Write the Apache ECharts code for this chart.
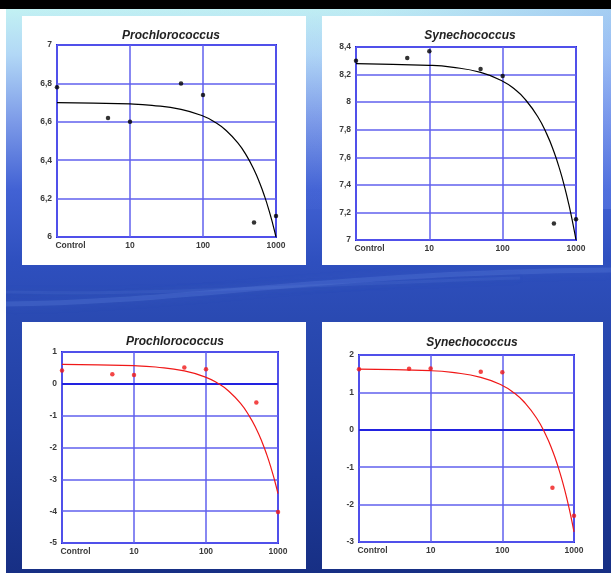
<!DOCTYPE html>
<html>
<head>
<meta charset="utf-8">
<script src="https://cdn.jsdelivr.net/npm/echarts@6/dist/echarts.min.js"></script>
<style>
html, body { margin: 0; padding: 0; background: #fff; }
#main { width: 611px; height: 573px; }
</style>
</head>
<body>
<div id="main"></div>
<script>
// dose axis (1 = Control), log scale
const doses = [1, 5, 10, 50, 100, 500, 1000];
const xTicks = [1, 10, 100, 1000];
const curveX = [1, 10, 20, 50, 100, 150, 200, 300, 400, 500, 600, 700, 800, 900, 1000];

// top row: log abundance
const proAbund = [6.78, 6.62, 6.60, 6.80, 6.74, 6.075, 6.11];
const proAbundFit = [6.700, 6.693, 6.686, 6.665, 6.630, 6.595, 6.560, 6.490, 6.420, 6.350, 6.280, 6.210, 6.140, 6.070, 6.000];
const synAbund = [8.30, 8.32, 8.37, 8.24, 8.19, 7.12, 7.15];
const synAbundFit = [8.280, 8.267, 8.254, 8.216, 8.152, 8.088, 8.024, 7.896, 7.768, 7.640, 7.512, 7.384, 7.256, 7.128, 7.000];

// bottom row: growth rate
const proGrowth = [0.42, 0.30, 0.28, 0.51, 0.46, -0.59, -4.03];
const proGrowthFit = [0.610, 0.570, 0.529, 0.407, 0.204, 0.001, -0.202, -0.608, -1.014, -1.420, -1.826, -2.232, -2.638, -3.044, -3.450];
const synGrowth = [1.62, 1.63, 1.64, 1.55, 1.54, -1.55, -2.30];
const synGrowthFit = [1.620, 1.580, 1.533, 1.403, 1.185, 0.968, 0.750, 0.315, -0.120, -0.555, -0.990, -1.425, -1.860, -2.295, -2.730];

const panels = [
  { title: 'Prochlorococcus', tx: 166, ty: 25, grid: [57, 45, 219, 192], ymin: 6, ymax: 7, step: 0.2, pts: proAbund, fit: proAbundFit, color: '#000', zero: false },
  { title: 'Synechococcus', tx: 465, ty: 25, grid: [356, 47, 220, 193], ymin: 7, ymax: 8.4, step: 0.2, pts: synAbund, fit: synAbundFit, color: '#000', zero: false },
  { title: 'Prochlorococcus', tx: 170, ty: 331, grid: [62, 352, 216, 191], ymin: -5, ymax: 1, step: 1, pts: proGrowth, fit: proGrowthFit, color: '#f01818', zero: true },
  { title: 'Synechococcus', tx: 467, ty: 332, grid: [359, 355, 215, 187], ymin: -3, ymax: 2, step: 1, pts: synGrowth, fit: synGrowthFit, color: '#f01818', zero: true }
];

const blueGrid = '#6060ee';
const blueBorder = '#2222e0';
const labelFont = { fontFamily: 'Liberation Sans', fontSize: 8.5, fontWeight: 'bold', color: '#3a3a3a' };

const chart = echarts.init(document.getElementById('main'));

const option = {
  animation: false,
  graphic: [
    {
      type: 'rect', z: -20, shape: { x: 6, y: 9, width: 605, height: 564 },
      style: {
        fill: new echarts.graphic.LinearGradient(0, 0, 0, 1, [
          { offset: 0, color: '#c2f1f3' },
          { offset: 0.08, color: '#b2d8f6' },
          { offset: 0.2, color: '#7c9ae8' },
          { offset: 0.32, color: '#4262d4' },
          { offset: 0.45, color: '#2e4fbe' },
          { offset: 0.55, color: '#2a4ab2' },
          { offset: 0.75, color: '#213fa2' },
          { offset: 1, color: '#172f84' }
        ])
      }
    },
    {
      type: 'rect', z: -19, shape: { x: 6, y: 9, width: 605, height: 200 },
      style: {
        fill: new echarts.graphic.LinearGradient(0, 0, 1, 0, [
          { offset: 0, color: 'rgba(120,150,240,0)' },
          { offset: 0.6, color: 'rgba(120,150,240,0.05)' },
          { offset: 1, color: 'rgba(110,140,240,0.35)' }
        ])
      }
    },
    {
      type: 'bezierCurve', z: -18,
      shape: { x1: 6, y1: 304, cpx1: 180, cpy1: 303, cpx2: 330, cpy2: 272, x2: 611, y2: 270 },
      style: { stroke: 'rgba(110,145,230,0.22)', lineWidth: 5, fill: null, shadowBlur: 10, shadowColor: 'rgba(110,145,230,0.5)' }
    },
    {
      type: 'bezierCurve', z: -18,
      shape: { x1: 6, y1: 292, cpx1: 150, cpy1: 296, cpx2: 300, cpy2: 285, x2: 520, y2: 278 },
      style: { stroke: 'rgba(100,135,220,0.15)', lineWidth: 3, fill: null, shadowBlur: 8, shadowColor: 'rgba(100,135,220,0.4)' }
    },
    { type: 'rect', z: -20, shape: { x: 0, y: 0, width: 611, height: 9 }, style: { fill: '#000' } },
    { type: 'rect', z: -15, shape: { x: 22, y: 16, width: 284, height: 249 }, style: { fill: '#fff' } },
    { type: 'rect', z: -15, shape: { x: 322, y: 16, width: 281, height: 249 }, style: { fill: '#fff' } },
    { type: 'rect', z: -15, shape: { x: 22, y: 322, width: 284, height: 247 }, style: { fill: '#fff' } },
    { type: 'rect', z: -15, shape: { x: 322, y: 322, width: 281, height: 247 }, style: { fill: '#fff' } }
  ],
  title: panels.map(p => ({
    text: p.title, left: p.tx, top: p.ty, textAlign: 'center',
    textStyle: { fontFamily: 'Liberation Sans', fontSize: 12, fontStyle: 'italic', fontWeight: 'bold', color: '#222' }
  })),
  grid: panels.map(p => ({
    left: p.grid[0], top: p.grid[1], width: p.grid[2], height: p.grid[3],
    show: true, borderColor: blueBorder, borderWidth: 2, backgroundColor: 'transparent', z: 3
  })),
  xAxis: panels.map((p, i) => ({
    type: 'log', logBase: 10, min: 1, max: 1000, gridIndex: i, z: 3,
    axisLine: { show: false }, axisTick: { show: false },
    splitLine: { show: true, lineStyle: { color: blueGrid, width: 1.5 } },
    axisLabel: Object.assign({}, labelFont, {
      margin: 4, showMinLabel: true, showMaxLabel: true,
      formatter: v => (v === xTicks[0] ? '{c|Control}' : String(v)),
      rich: { c: Object.assign({}, labelFont, { padding: [0, 0, 0, 27] }) }
    })
  })),
  yAxis: panels.map((p, i) => ({
    type: 'value', min: p.ymin, max: p.ymax, interval: p.step, gridIndex: i, z: 3,
    axisLine: { show: false }, axisTick: { show: false },
    splitLine: { show: true, lineStyle: { color: blueGrid, width: 1.5 } },
    axisLabel: Object.assign({}, labelFont, {
      margin: 5,
      formatter: v => String(+v.toFixed(1)).replace('.', ',')
    })
  })),
  series: []
};

panels.forEach((p, i) => {
  const line = {
    type: 'line', xAxisIndex: i, yAxisIndex: i, z: 5,
    smooth: true, showSymbol: false, symbol: 'none',
    lineStyle: { color: p.color, width: 1.2 },
    data: curveX.map((x, k) => [x, p.fit[k]])
  };
  if (p.zero) {
    line.markLine = {
      silent: true, symbol: 'none', label: { show: false },
      lineStyle: { color: blueBorder, width: 2, type: 'solid' },
      data: [{ yAxis: 0 }]
    };
  }
  option.series.push(line);
  option.series.push({
    type: 'scatter', xAxisIndex: i, yAxisIndex: i, z: 6,
    symbolSize: 4.5, itemStyle: { color: p.color },
    data: doses.map((x, k) => [x, p.pts[k]])
  });
});

chart.setOption(option);
</script>
</body>
</html>
